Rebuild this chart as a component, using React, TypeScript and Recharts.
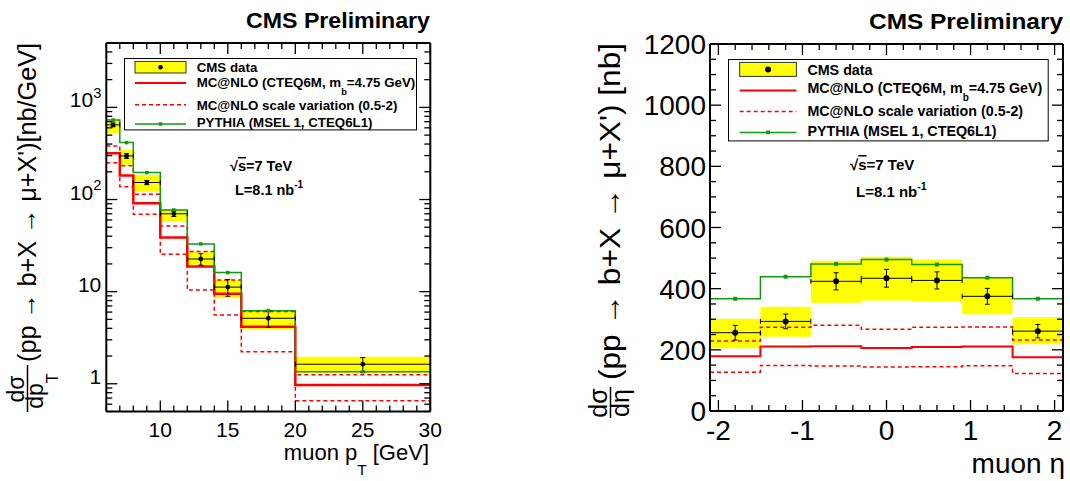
import React from 'react';
import { ComposedChart, Line, Scatter, ErrorBar, XAxis, YAxis, ReferenceArea, ReferenceLine, Legend } from 'recharts';

const FONT = '"Liberation Sans", Arial, Helvetica, sans-serif';
const YELLOW = '#ffff00';
const RED = '#ff0000';
const GREEN = '#119911';

// left panel: muon pT (bins in GeV, values in nb/GeV)
const ptEdges = [6, 7, 8, 10, 12, 14, 16, 20, 30];
const ptCms = [646, 297, 153, 70, 22.6, 11.2, 5.14, 1.63];
const ptStat = [30, 18, 8, 4.5, 3.2, 2.3, 1.05, 0.29];
const ptSystLow = [525, 238, 122, 57.5, 18.7, 8.5, 3.94, 1.32];
const ptSystHigh = [731, 345, 185, 77.5, 27.2, 13.4, 6.22, 1.97];
const ptMcnlo = [318, 182, 91, 38.6, 18.7, 9.5, 4.17, 0.97];
const ptScaleHigh = [382, 233, 114, 51.7, 27.2, 13.4, 6.1, 1.25];
const ptScaleLow = [251, 138, 69, 25.4, 10.4, 5.58, 2.23, 0.656];
const ptPythia = [728, 415, 196, 77, 33, 16.1, 6.22, 1.35];
const ptXLabels = [10, 15, 20, 25, 30];
const ptYLabels = [1, 10, 100, 1000];
const ptYLabelText = ['1', '10', '10^{2}', '10^{3}'];

// right panel: muon eta (values in nb)
const etaEdges = [-2.1, -1.5, -0.9, -0.3, 0.3, 0.9, 1.5, 2.1];
const etaCms = [256, 293, 424, 434, 427, 375, 261];
const etaStat = [24, 24, 28, 29, 28, 26, 22];
const etaSystLow = [205, 243, 354, 361, 359, 316, 218];
const etaSystHigh = [302, 341, 491, 504, 495, 437, 307];
const etaMcnlo = [179, 211, 212, 206, 209, 211, 176];
const etaScaleHigh = [229, 274, 280, 267, 274, 275, 232];
const etaScaleLow = [127, 149, 147, 144, 145, 148, 123];
const etaPythia = [367, 439, 481, 495, 479, 436, 367];
const etaXLabels = [-2, -1, 0, 1, 2];
const etaYLabels = [0, 200, 400, 600, 800, 1000, 1200];

const legendNames = [
  'CMS data',
  'MC@NLO (CTEQ6M, m_{b}=4.75 GeV)',
  'MC@NLO scale variation (0.5-2)',
  'PYTHIA (MSEL 1, CTEQ6L1)',
];

// all tick positions (majors get the longer mark)
const ptXMinor = Array.from({ length: 25 }, (_, i) => 6 + i);
const ptYMinor = [0.1, 1, 10, 100, 1000]
  .flatMap((d) => [1, 2, 3, 4, 5, 6, 7, 8, 9].map((k) => +(k * d).toPrecision(3)))
  .filter((v) => v >= 0.5 && v <= 5000);
const etaXMinor = Array.from({ length: 21 }, (_, i) => +(-2 + 0.2 * i).toFixed(1));
const etaYMinor = Array.from({ length: 25 }, (_, i) => i * 50);

const centers = (e: number[]) => e.slice(0, -1).map((v, i) => (v + e[i + 1]) / 2);
const steps = (e: number[], vals: number[]) => e.map((x, i) => ({ x, y: vals[Math.min(i, vals.length - 1)] }));
const isIn = (list: number[], v: number) => list.some((m) => Math.abs(m - v) < 1e-6);

// small ROOT-latex like helper: a_{b} and a^{b}
function rich(text: string, fs: number, sub = 0.45, sup = 0.45) {
  const parts = text.split(/([_^]\{[^}]*\})/).filter((s) => s !== '');
  let shift = 0;
  return parts.map((part, i) => {
    const m = part.match(/^([_^])\{(.*)\}$/);
    if (m) {
      const target = m[1] === '_' ? fs * sub : -fs * sup;
      const dy = target - shift;
      shift = target;
      return <tspan key={i} dy={dy} fontSize={fs * 0.7}>{m[2]}</tspan>;
    }
    const dy = -shift;
    shift = 0;
    return <tspan key={i} dy={dy}>{part}</tspan>;
  });
}

// tick labels
const leftLabel = (fmt: (v: number) => React.ReactNode, fs: number, gap: number) => (props: any) => (
  <text x={Number(props.x) - gap} y={Number(props.y)} dy={fs * 0.36} textAnchor="end" fontSize={fs}
    fill="#000" fontFamily={FONT}>
    {fmt(Number(props.payload.value))}
  </text>
);
const bottomLabel = (fs: number, gap: number) => (props: any) => (
  <text x={Number(props.x)} y={Number(props.y) + gap} dy={fs * 0.72} textAnchor="middle" fontSize={fs}
    fill="#000" fontFamily={FONT}>
    {String(props.payload.value)}
  </text>
);

// ROOT style inward tick marks on all four sides, placed through the chart scales
function tickMarks(p: any) {
  const [x0, x1] = p.xDomain;
  const [y0, y1] = p.yDomain;
  const out: any[] = [];
  p.xMinor.forEach((v: number) => {
    const len = isIn(p.xMajors, v) ? 11 : 6;
    out.push({ x: v, y: y0, dir: 'up', len }, { x: v, y: y1, dir: 'down', len });
  });
  p.yMinor.forEach((v: number) => {
    const len = isIn(p.yMajors, v) ? 11 : 6;
    out.push({ x: x0, y: v, dir: 'right', len }, { x: x1, y: v, dir: 'left', len });
  });
  return out;
}
const TickShape = (s: any) => {
  const cx = Number(s.cx);
  const cy = Number(s.cy);
  const dir = s.payload?.dir ?? s.dir;
  const len = Number(s.payload?.len ?? s.len);
  const t = 1.3;
  if (dir === 'up') return <rect x={cx - t / 2} y={cy - len} width={t} height={len} fill="#000" />;
  if (dir === 'down') return <rect x={cx - t / 2} y={cy} width={t} height={len} fill="#000" />;
  if (dir === 'right') return <rect x={cx} y={cy - t / 2} width={len} height={t} fill="#000" />;
  return <rect x={cx - len} y={cy - t / 2} width={len} height={t} fill="#000" />;
};

function LegendBox({ w, h, fs, sample, textX, yellow, baseY, lineY, dotR, sq }: any) {
  const [s0, s1] = sample;
  const mid = (s0 + s1) / 2;
  return (
    <svg width={w} height={h} style={{ display: 'block', fontFamily: FONT }}>
      <rect x={0.5} y={0.5} width={w - 1} height={h - 1} fill="#fff" stroke="#000" strokeWidth={1} />
      <rect x={s0} y={yellow[0]} width={s1 - s0} height={yellow[1] - yellow[0]} fill={YELLOW} stroke="#333" strokeWidth={1} />
      <circle cx={mid} cy={(yellow[0] + yellow[1]) / 2} r={dotR} fill="#000" />
      <line x1={s0} x2={s1} y1={lineY[0]} y2={lineY[0]} stroke={RED} strokeWidth={2} />
      <line x1={s0} x2={s1} y1={lineY[1]} y2={lineY[1]} stroke={RED} strokeWidth={1.5} strokeDasharray="4 3" />
      <line x1={s0} x2={s1} y1={lineY[2]} y2={lineY[2]} stroke={GREEN} strokeWidth={1.5} />
      <rect x={mid - sq / 2} y={lineY[2] - sq / 2} width={sq} height={sq} fill={GREEN} />
      {legendNames.map((name, i) => (
        <text key={name} x={textX} y={baseY[i]} fontSize={fs} fontWeight="bold" fill="#000">
          {rich(name, fs, 0.55)}
        </text>
      ))}
    </svg>
  );
}

function Panel(p: any) {
  const mids = centers(p.edges);
  const points = mids.map((x, i) => ({ x, y: p.cms[i], ex: (p.edges[i + 1] - p.edges[i]) / 2, ey: p.stat[i] }));
  const pyMarks = mids.map((x, i) => ({ x, y: p.pythia[i] }));
  const scale = p.log ? 'log' : 'linear';
  const frame = { stroke: '#000', strokeWidth: 2 };
  return (
    <ComposedChart width={535} height={481} margin={p.margin}>
      <XAxis dataKey="x" type="number" domain={p.xDomain} ticks={p.xMajors} interval={0}
        tickSize={0} tickMargin={0} height={40} axisLine={frame} tickLine={false}
        tick={bottomLabel(p.fs, p.xGap)} />
      <YAxis type="number" scale={scale} domain={p.yDomain} ticks={p.yMajors} interval={0}
        tickSize={0} tickMargin={0} width={p.yWidth} axisLine={frame} tickLine={false}
        tick={leftLabel(p.yLabel, p.fs, p.yGap)} />
      {mids.map((_, i) => (
        <ReferenceArea key={i} x1={p.edges[i]} x2={p.edges[i + 1]} y1={p.systLow[i]} y2={p.systHigh[i]}
          fill={YELLOW} fillOpacity={1} stroke="none" />
      ))}
      <Line data={steps(p.edges, p.scaleLow)} dataKey="y" type="stepAfter" stroke={RED} strokeWidth={1.5}
        strokeDasharray="4 3" dot={false} isAnimationActive={false} />
      <Line data={steps(p.edges, p.scaleHigh)} dataKey="y" type="stepAfter" stroke={RED} strokeWidth={1.5}
        strokeDasharray="4 3" dot={false} isAnimationActive={false} />
      <Line data={steps(p.edges, p.mcnlo)} dataKey="y" type="stepAfter" stroke={RED} strokeWidth={p.redW}
        dot={false} isAnimationActive={false} />
      <Line data={steps(p.edges, p.pythia)} dataKey="y" type="stepAfter" stroke={GREEN} strokeWidth={1.5}
        dot={false} isAnimationActive={false} />
      <Scatter data={pyMarks} dataKey="y" isAnimationActive={false}
        shape={(s: any) => <rect x={s.cx - p.sq / 2} y={s.cy - p.sq / 2} width={p.sq} height={p.sq} fill={GREEN} />} />
      <Scatter data={points} dataKey="y" isAnimationActive={false}
        shape={(s: any) => <circle cx={s.cx} cy={s.cy} r={p.dotR} fill="#000" />}>
        <ErrorBar dataKey="ex" direction="x" width={2.5} stroke="#000" strokeWidth={1} />
        <ErrorBar dataKey="ey" direction="y" width={2.5} stroke="#000" strokeWidth={1} />
      </Scatter>
      <Scatter data={tickMarks(p)} dataKey="y" isAnimationActive={false} shape={TickShape} />
      <ReferenceLine x={p.xDomain[1]} ifOverflow="visible" stroke="#000" strokeWidth={2} />
      <ReferenceLine y={p.yDomain[1]} ifOverflow="visible" stroke="#000" strokeWidth={2} />
      <Legend verticalAlign="middle" align="center" layout="horizontal"
        wrapperStyle={{ position: 'absolute', ...p.legendPos }}
        content={() => <LegendBox {...p.legend} />} />
    </ComposedChart>
  );
}

export default function App() {
  return (
    <div style={{ position: 'relative', width: 1070, height: 481, background: '#fff', fontFamily: FONT }}>
      <style>{'body{margin:0}'}</style>
      <div style={{ position: 'absolute', left: 0, top: 0 }}>
        <Panel
          edges={ptEdges} cms={ptCms} stat={ptStat} systLow={ptSystLow} systHigh={ptSystHigh}
          mcnlo={ptMcnlo} scaleHigh={ptScaleHigh} scaleLow={ptScaleLow} pythia={ptPythia}
          log xDomain={[6, 30]} yDomain={[0.5, 5000]} xMinor={ptXMinor} yMinor={ptYMinor}
          xMajors={ptXLabels} yMajors={ptYLabels}
          yLabel={(v: number) => rich(ptYLabelText[ptYLabels.indexOf(v)], 21, 0.45, 0.45)}
          fs={21} xGap={10} yGap={5} yWidth={60}
          margin={{ top: 43, right: 104.7, bottom: 29.5, left: 46.3 }}
          redW={2.5} sq={3.5} dotR={2.4}
          legendPos={{ left: 124, top: 58.3, width: 293, height: 72.4 }}
          legend={{ w: 293, h: 72.4, fs: 13.3, sample: [11, 62], textX: 72.7, yellow: [3.4, 15],
            baseY: [14, 29.4, 51.7, 68.7], lineY: [25, 46.7, 66], dotR: 2.3, sq: 3.4 }}
        />
      </div>
      <div style={{ position: 'absolute', left: 535, top: 0 }}>
        <Panel
          edges={etaEdges} cms={etaCms} stat={etaStat} systLow={etaSystLow} systHigh={etaSystHigh}
          mcnlo={etaMcnlo} scaleHigh={etaScaleHigh} scaleLow={etaScaleLow} pythia={etaPythia}
          log={false} xDomain={[-2.1, 2.1]} yDomain={[0, 1200]} xMinor={etaXMinor} yMinor={etaYMinor}
          xMajors={etaXLabels} yMajors={etaYLabels}
          yLabel={(v: number) => String(v)}
          fs={28} xGap={9} yGap={4} yWidth={70}
          margin={{ top: 44, right: 7, bottom: 30, left: 105 }}
          redW={2} sq={4} dotR={3}
          legendPos={{ left: 193.3, top: 59.3, width: 320.7, height: 82.4 }}
          legend={{ w: 320.7, h: 82.4, fs: 14.3, sample: [11.7, 68.4], textX: 79.4, yellow: [3.4, 17.4],
            baseY: [16.4, 34, 57.4, 77.4], lineY: [31.4, 52.4, 73.4], dotR: 3, sq: 3.8 }}
        />
      </div>
      <svg width={1070} height={481} style={{ position: 'absolute', left: 0, top: 0, pointerEvents: 'none', fontFamily: FONT }}>
        <text x={430} y={28} textAnchor="end" fontSize={22} fontWeight="bold" textLength={184} lengthAdjust="spacingAndGlyphs">CMS Preliminary</text>
        <text x={1063} y={29} textAnchor="end" fontSize={22} fontWeight="bold" textLength={194} lengthAdjust="spacingAndGlyphs">CMS Preliminary</text>

        <text x={230} y={171} fontSize={14.5} fontWeight="bold">√<tspan style={{ textDecoration: 'overline' }}>s</tspan>=7 TeV</text>
        <text x={235} y={195} fontSize={14.5} fontWeight="bold">{rich('L=8.1 nb^{-1}', 14.5)}</text>
        <text x={850} y={170} fontSize={15} fontWeight="bold">√<tspan style={{ textDecoration: 'overline' }}>s</tspan>=7 TeV</text>
        <text x={856} y={197} fontSize={15} fontWeight="bold">{rich('L=8.1 nb^{-1}', 15)}</text>

        <text x={429} y={460} textAnchor="end" fontSize={22}>{rich('muon p_{T} [GeV]', 22, 0.7)}</text>
        <text x={1065} y={473} textAnchor="end" fontSize={28}>muon η</text>

        <g transform="translate(36, 413) rotate(-90)">
          <text x={24} y={-12} textAnchor="middle" fontSize={23}>dσ</text>
          <line x1={1} x2={48} y1={-8.5} y2={-8.5} stroke="#000" strokeWidth={1.5} />
          <text x={22} y={7} textAnchor="middle" fontSize={23}>{rich('dp_{T}', 23, 0.65)}</text>
          <text x={51} y={0} fontSize={25} textLength={319} lengthAdjust="spacingAndGlyphs">(pp → b+X → μ+X')[nb/GeV]</text>
        </g>
        <g transform="translate(620, 418) rotate(-90)">
          <text x={15} y={-13} textAnchor="middle" fontSize={25}>dσ</text>
          <line x1={0} x2={31} y1={-9.5} y2={-9.5} stroke="#000" strokeWidth={1.5} />
          <text x={15} y={9} textAnchor="middle" fontSize={25}>dη</text>
          <text x={38} y={0} fontSize={30} textLength={337} lengthAdjust="spacingAndGlyphs">(pp → b+X → μ+X') [nb]</text>
        </g>
      </svg>
    </div>
  );
}
